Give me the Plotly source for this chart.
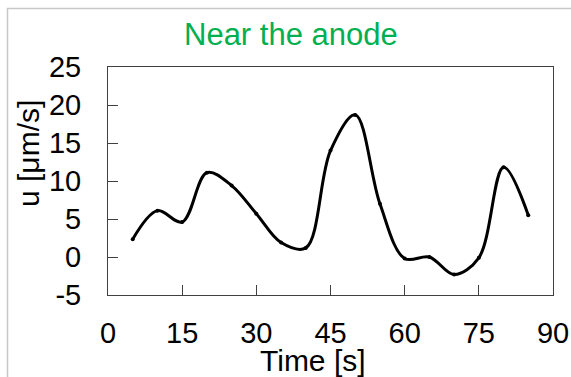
import plotly.graph_objects as go

time_s = [5, 10, 15, 20, 25, 30, 35, 40, 45, 50, 55, 60, 65, 70, 75, 80, 85]
u_um_s = [2.35, 6.1, 4.6, 11.1, 9.4, 5.7, 1.9, 1.2, 14.0, 18.7, 7.0, -0.2, 0.0, -2.3, -0.1, 11.8, 5.5]
x_ticks = [0, 15, 30, 45, 60, 75, 90]
y_ticks = [-5, 0, 5, 10, 15, 20, 25]

FONT = "Liberation Sans, Arial, sans-serif"
W, H = 571, 377
L, R, T, B = 108, 18, 67, 82
pw, ph = W - L - R, H - T - B

fig = go.Figure()
fig.add_trace(go.Scatter(
    x=time_s, y=u_um_s, mode="lines+markers",
    line=dict(color="black", width=3, shape="spline", smoothing=1.0),
    marker=dict(color="black", size=4),
    showlegend=False,
))

def px2paper_x(px):
    return (px - L) / pw

def px2paper_y(py):
    return (H - B - py) / ph

fig.update_layout(
    width=W, height=H,
    margin=dict(l=L, r=R, t=T, b=B, pad=0, autoexpand=False),
    paper_bgcolor="white", plot_bgcolor="white",
    font=dict(family=FONT, color="black"),
    xaxis=dict(
        range=[0, 90], tickvals=x_ticks, ticktext=[str(v) for v in x_ticks],
        ticks="inside", ticklen=10, tickcolor="#404040", tickwidth=1,
        showline=True, linecolor="#404040", linewidth=1, mirror=True,
        showgrid=False, zeroline=False, automargin=False,
        tickfont=dict(size=29, family=FONT, color="black"),
        ticklabelstandoff=12,
    ),
    yaxis=dict(
        range=[-5, 25], tickvals=y_ticks, ticktext=[str(v) for v in y_ticks],
        ticks="inside", ticklen=10, tickcolor="#404040", tickwidth=1,
        showline=True, linecolor="#404040", linewidth=1, mirror=True,
        showgrid=False, zeroline=False, automargin=False,
        tickfont=dict(size=29, family=FONT, color="black"),
        ticklabelstandoff=20,
    ),
    shapes=[dict(
        type="rect", xref="paper", yref="paper",
        x0=px2paper_x(7.5), x1=px2paper_x(600), y0=px2paper_y(400), y1=px2paper_y(8.5),
        line=dict(color="#c8c8c8", width=1.5), fillcolor="rgba(0,0,0,0)", layer="below",
    )],
    annotations=[
        dict(text="Near the anode", xref="paper", yref="paper",
             x=px2paper_x(291), y=px2paper_y(34), xanchor="center", yanchor="middle",
             showarrow=False, font=dict(size=31, color="#00B050", family=FONT)),
        dict(text="Time [s]", xref="paper", yref="paper",
             x=px2paper_x(313), y=px2paper_y(360), xanchor="center", yanchor="middle",
             showarrow=False, font=dict(size=30, color="black", family=FONT)),
        dict(text="u [μm/s]", xref="paper", yref="paper", textangle=-90,
             x=px2paper_x(28), y=px2paper_y(154), xanchor="center", yanchor="middle",
             showarrow=False, font=dict(size=30, color="black", family=FONT)),
    ],
)

fig.write_html(
    "out.html",
    config={"displayModeBar": False},
    post_script="document.body.style.margin='0';document.body.style.overflow='hidden';",
)
